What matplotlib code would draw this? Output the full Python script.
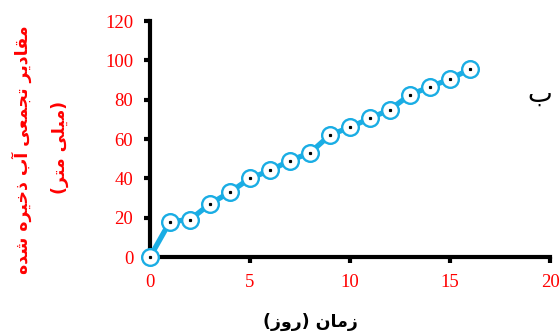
import matplotlib
matplotlib.use("Agg")
import matplotlib.pyplot as plt

days = [0, 1, 2, 3, 4, 5, 6, 7, 8, 9, 10, 11, 12, 13, 14, 15, 16]
cum_water = [0, 18, 19, 27, 33, 40, 44, 49, 53, 62, 66, 70.5, 75, 82.5, 86.5, 90.5, 95.5]
x_ticks = [0, 5, 10, 15, 20]
y_ticks = [0, 20, 40, 60, 80, 100, 120]

ylabel_1 = "مقادیر تجمعی آب ذخیره شده"
ylabel_2 = "(میلی متر)"
xlabel = "زمان (روز)"
panel = "ب"

# Minimal Arabic/Persian shaping (presentation forms) + visual reordering
FORMS = {
    'ا': (0xFE8D, 0xFE8E, None, None),
    'آ': (0xFE81, 0xFE82, None, None),
    'ب': (0xFE8F, 0xFE90, 0xFE91, 0xFE92),
    'ت': (0xFE95, 0xFE96, 0xFE97, 0xFE98),
    'ج': (0xFE9D, 0xFE9E, 0xFE9F, 0xFEA0),
    'خ': (0xFEA5, 0xFEA6, 0xFEA7, 0xFEA8),
    'د': (0xFEA9, 0xFEAA, None, None),
    'ذ': (0xFEAB, 0xFEAC, None, None),
    'ر': (0xFEAD, 0xFEAE, None, None),
    'ز': (0xFEAF, 0xFEB0, None, None),
    'ش': (0xFEB5, 0xFEB6, 0xFEB7, 0xFEB8),
    'ع': (0xFEC9, 0xFECA, 0xFECB, 0xFECC),
    'ق': (0xFED5, 0xFED6, 0xFED7, 0xFED8),
    'ل': (0xFEDD, 0xFEDE, 0xFEDF, 0xFEE0),
    'م': (0xFEE1, 0xFEE2, 0xFEE3, 0xFEE4),
    'ن': (0xFEE5, 0xFEE6, 0xFEE7, 0xFEE8),
    'ه': (0xFEE9, 0xFEEA, 0xFEEB, 0xFEEC),
    'و': (0xFEED, 0xFEEE, None, None),
    'ی': (0xFEEF, 0xFEF0, 0xFEF3, 0xFEF4),
}


def shape(text):
    out = []
    n = len(text)
    for i, ch in enumerate(text):
        if ch not in FORMS:
            out.append(ch)
            continue
        iso, fin, ini, med = FORMS[ch]
        prev = text[i - 1] if i > 0 else None
        nxt = text[i + 1] if i < n - 1 else None
        join_prev = prev in FORMS and FORMS[prev][2] is not None
        join_next = nxt in FORMS and ini is not None
        if join_prev and join_next:
            cp = med
        elif join_prev:
            cp = fin
        elif join_next:
            cp = ini
        else:
            cp = iso
        out.append(chr(cp))
    vis = ''.join(reversed(out))
    vis = vis.translate(str.maketrans({'(': ')', ')': '('}))
    return vis


blue = '#1AADE4'
red = '#FF0000'
serif = ['Liberation Serif', 'DejaVu Serif']
arab = ['DejaVu Sans']

fig = plt.figure(figsize=(5.6, 3.33), dpi=100)
ax = fig.add_axes([150 / 560, 1 - 257 / 333, 400 / 560, 236 / 333])

ax.plot(days, cum_water, color=blue, lw=3.8, marker='o', ms=12,
        mfc='white', mec=blue, mew=1.7, clip_on=False, zorder=3)
ax.plot(days, cum_water, ls='none', marker='s', ms=1.3, color='black',
        clip_on=False, zorder=4)

ax.set_xlim(0, 20)
ax.set_ylim(0, 120)
ax.set_xticks(x_ticks)
ax.set_yticks(y_ticks)
for s in ['top', 'right']:
    ax.spines[s].set_visible(False)
for s in ['left', 'bottom']:
    ax.spines[s].set_linewidth(3)
ax.tick_params(direction='out', length=4, width=3, colors='black',
               labelcolor=red, labelsize=13.5, pad=8)
for lab in ax.get_xticklabels() + ax.get_yticklabels():
    lab.set_family(serif)

fig.text(22 / 560, 1 - 150 / 333, shape(ylabel_1), rotation=90, color=red,
         family=arab, fontweight='bold', fontsize=12.5, ha='center', va='center')
fig.text(60 / 560, 1 - 147 / 333, shape(ylabel_2), rotation=90, color=red,
         family=arab, fontweight='bold', fontsize=12.5, ha='center', va='center')
fig.text(310 / 560, 1 - 322 / 333, shape(xlabel), color='black',
         family=arab, fontweight='bold', fontsize=12.5, ha='center', va='center')
fig.text(540 / 560, 1 - 95 / 333, shape(panel), color='black',
         family=arab, fontsize=19, ha='center', va='center')

fig.savefig('out.png', dpi=100)
